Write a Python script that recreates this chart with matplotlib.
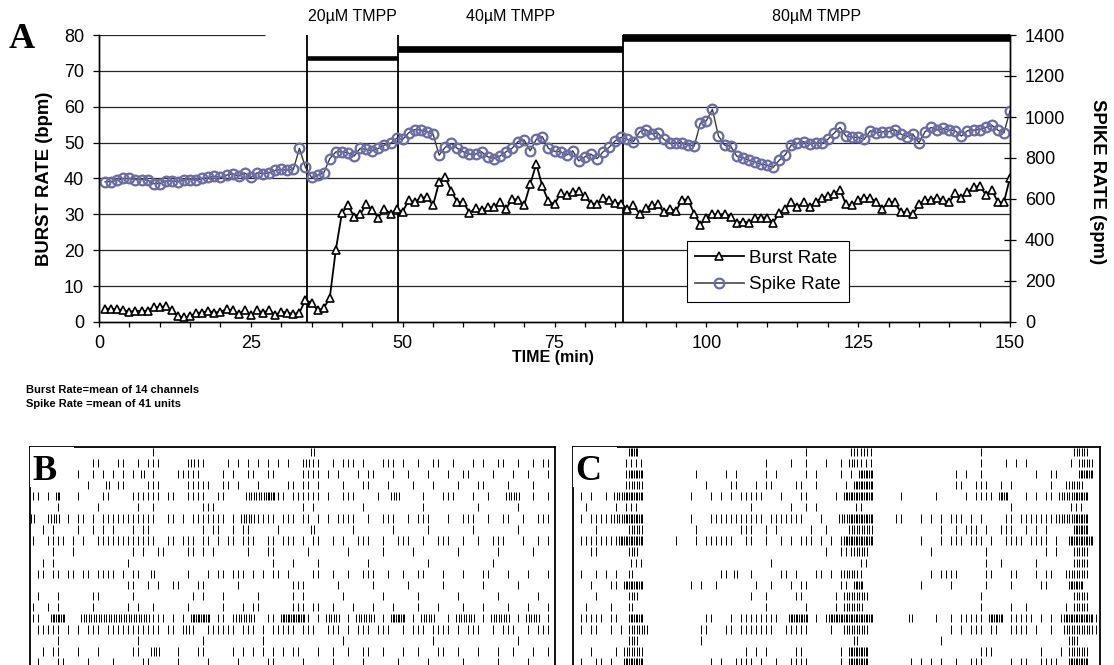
import matplotlib
matplotlib.use("Agg")
import matplotlib.pyplot as plt
import matplotlib.transforms as mtransforms
from matplotlib.lines import Line2D
from matplotlib.patches import Rectangle

plt.rcParams["font.family"] = ["Liberation Sans", "DejaVu Sans"]

# ---------------------------------------------------------------------------
# Data
# ---------------------------------------------------------------------------

MINUTES = list(range(1, 151))

BURST_RATE = [
    3.7, 3.7, 3.5, 3.3, 2.9, 3.1, 3.1, 3.1, 4.2, 4.2,
    4.4, 3.3, 1.6, 1.3, 1.6, 2.6, 2.6, 3.1, 2.6, 2.9,
    3.5, 3.3, 2.2, 3.3, 1.9, 3.3, 2.6, 3.3, 1.9, 2.9,
    2.6, 2.2, 2.6, 6.2, 5.3, 3.3, 3.8, 6.8, 20.2, 30.4,
    32.5, 29.4, 30.0, 32.8, 31.1, 29.1, 31.6, 30.2, 31.4, 30.8,
    33.9, 33.4, 34.6, 34.8, 32.5, 39.0, 40.4, 36.5, 33.4, 33.4,
    30.4, 31.8, 31.1, 32.0, 32.0, 33.5, 31.4, 34.3, 34.1, 32.5,
    38.4, 44.1, 37.8, 33.7, 32.8, 35.9, 35.3, 36.2, 36.5, 35.0,
    33.0, 33.0, 34.6, 33.9, 33.2, 33.0, 31.4, 32.5, 30.2, 31.8,
    32.5, 32.8, 30.6, 31.6, 30.9, 34.1, 34.1, 30.2, 27.1, 28.9,
    30.0, 30.0, 30.0, 29.3, 27.7, 28.0, 27.7, 28.9, 29.1, 29.1,
    27.7, 30.4, 31.6, 33.4, 32.0, 33.4, 32.0, 33.4, 34.6, 35.0,
    35.7, 36.8, 32.8, 32.5, 34.0, 34.6, 34.6, 33.4, 31.6, 33.4,
    33.4, 30.6, 30.6, 30.0, 32.8, 34.0, 34.0, 34.6, 33.9, 33.4,
    35.9, 34.6, 36.2, 37.5, 38.0, 35.5, 36.8, 33.4, 33.4, 40.2,
]

SPIKE_RATE = [
    684, 684, 692, 700, 700, 695, 695, 692, 675, 675,
    688, 688, 684, 692, 695, 692, 700, 705, 711, 705,
    716, 724, 711, 727, 705, 727, 724, 727, 740, 744,
    740, 744, 847, 754, 705, 716, 727, 797, 830, 830,
    825, 809, 847, 842, 835, 847, 863, 871, 896, 891,
    923, 939, 936, 928, 917, 814, 852, 871, 847, 830,
    819, 819, 830, 806, 797, 809, 830, 847, 880, 888,
    835, 891, 904, 847, 833, 830, 814, 835, 786, 806,
    819, 797, 830, 852, 884, 901, 891, 880, 928, 939,
    917, 923, 891, 871, 874, 874, 863, 858, 969, 982,
    1037, 907, 863, 858, 809, 802, 789, 781, 770, 765,
    754, 789, 816, 863, 871, 880, 868, 874, 871, 891,
    920, 949, 907, 901, 901, 891, 933, 923, 928, 928,
    939, 917, 904, 917, 874, 928, 949, 936, 944, 936,
    933, 907, 933, 936, 939, 949, 960, 936, 923, 1030,
]

DOSE_LABELS = ["20\u00b5M TMPP", "40\u00b5M TMPP", "80\u00b5M TMPP"]
DOSE_START = [34.3, 49.3, 86.3]
DOSE_END = [49.3, 86.3, 150.0]

FOOTNOTES = ["Burst Rate=mean of 14 channels", "Spike Rate =mean of 41 units"]

# Raster rows: tokens "bin<kind>" or "start-end<kind>", one bin = 5 px of panel.
# kind: | single spike, : two spikes, # dense burst
RASTER_B = [
    "24| 56:",
    "12-13| 17-18| 21| 23-25| 31| 32: 33-34| 39| 41| 43| 45| 47| 49| 51| 54| 55: 56-57| "
    "60| 62-64| 66| 70-72| 74| 77| 80-81| 84| 88| 90| 93-94| 97| 100| 102-103|",
    "9| 12| 14| 16| 18| 20| 22: 24| 29-33| 38| 40| 43-44| 47-48| 54-57| "
    "59| 61| 65| 67-68| 72| 75| 79| 83| 86-87| 92| 96| 99| 103|",
    "11| 15: 17-18| 23-25| 31-35| 38-39| 41| 45| 51-52| 54-55| 57| "
    "62| 66-67| 71| 76| 80| 85| 89-90| 95| 100|",
    "0-1| 3| 5# 9| 14-15| 20-25| 27-28| 31-34| 37-38| 43-46: 47-48# 49-50| 52-57| "
    "59| 62-64| 69| 72-73: 78| 82-84| 88| 91| 95-97: 100| 103|",
    "5| 13| 21| 24| 34-36| 54| 56| 66| 78| 89| 97|",
    "0: 3| 4-5: 7| 9-10| 12| 14-24| 27-28| 30| 32-38| 40| 42-44: 45-48| 50-52| 54-55| 57| "
    "59| 61-64| 67| 70-72| 75| 77-79| 83| 86-88| 91| 94-95| 98| 101-103|",
    "2| 4| 9| 12| 14| 16| 20| 22-23| 34| 36-37| 40| 42-43| 49| 56: 64| 72| 79| 88| 97|",
    "0| 3-6| 8| 10| 13-24| 27-28| 30-32| 34-35| 37| 39-40| 42-44| 47-48| 50-52| 54| 56-57| "
    "60| 62| 65-67| 70| 73-75| 78| 81-83| 86| 89| 92-94| 98| 101| 103|",
    "4| 8| 20| 22| 25-26| 31-32| 34| 36| 43| 47-48| 55| 63| 70| 76| 85| 93| 100|",
    "2| 4| 19| 48| 52| 57| 67| 79| 92|",
    "1-2| 4-5| 7-8| 10-11| 13-16| 18| 20-21| 24: 31| 35| 37-38| 40-42| 44| 46| 48-49| 51| 56-57| "
    "60| 63| 66-68| 71| 74| 77-78| 82| 86| 90-91| 95| 99| 103|",
    "19-20| 23| 25| 28-29| 33-34| 41| 52-54| 61| 68| 75| 82| 90| 97|",
    "1| 5| 12-13| 20| 32| 34| 38| 45| 52| 54| 62| 70| 77| 85| 93| 101|",
    "0| 3| 5| 12| 19| 21| 24| 31| 38| 42| 44-45| 52-54| 56-57| "
    "60| 64| 68| 72| 77| 81| 86| 90| 95| 99| 103|",
    "0-1| 4-6# 10-16: 17-23: 24-25| 26| 28| 30| 32-35# 37-38| 40| 41-44: 47-48| 50-54# 55| 57| "
    "59-61: 63| 65-68: 70| 72-74# 76| 78-80: 83| 85-88: 90| 92-95: 97| 99-101: 103|",
    "1-5| 7| 9| 11-13| 15-25| 27-28| 30| 31: 32| 35-40| 42-44| 46| 48-52| 54-56| "
    "59-61| 63| 65-67| 69-71| 74| 76-78| 80-83| 85| 87-89| 92| 94-96| 99| 101-103|",
    "5| 21| 34| 46| 62| 80| 97|",
    "2| 4-5| 9| 13| 20-21| 24-25: 29| 33-34| 40| 42| 44| 46| 48| 50| 52-53| 57| "
    "60| 63| 66-67| 70| 74| 77| 81-82| 85| 89| 93| 96| 100| 103|",
    "1| 5-6| 11| 16| 22-23| 29| 35| 41| 47-48| 54| 60| 66| 73| 79| 86| 93| 99|",
]

RASTER_C = [
    "11-12# 46| 55| 56: 57| 58: 59| 81| 100-102:",
    "10-13| 38| 43| 46| 50| 53| 55-56: 57-59| 81| 86| 88| 90| 99| 101-103:",
    "10| 11-13# 24| 30| 32| 38| 40| 46| 48| 53| 55| 57-59# 76| 78| 81| 92| 95-96| 101-103#",
    "10| 11-13: 26| 31-32| 36| 38-39| 44-45| 48| 54| 56-59# 76-77| 80-82| 85| 87| 95| 98| 99-101:",
    "1| 3| 6| 8-9: 10-13# 23| 27| 29| 31| 33-37| 41| 45-46| 52| 54-59# 65| 72| 78| 80-83| 85-86# "
    "90| 92| 94-95| 97-99: 100-102#",
    "2| 8| 10-12| 35| 43| 46| 48| 56-57| 87| 99-101|",
    "1| 3-7| 8-9: 10-13# 23| 27-32| 33-37| 39-40| 41-45| 49| 53-54: 55-59# 64-65| 69| 71| 73| 75-77| "
    "79| 81| 86-87| 89-95| 96| 97-99: 100-102#",
    "4| 11-13: 24| 33-35| 38| 40| 47| 50| 55-59: 73| 76| 78-80| 82| 85-87| 90| 92| 94| 100-102#",
    "1| 2-4| 5| 6| 7| 8| 9-13# 20| 24| 26| 27-30| 31| 34-35| 38| 41| 43| 45-47| 49| 51| 53| 54-59# "
    "69| 73| 75-77| 79-81| 83| 86-88| 89| 91-94| 96| 99-103#",
    "3-4| 11-12: 50| 53-55| 56-58: 71| 82| 94| 96| 100-102:",
    "11-13| 39| 57-58| 82| 85| 92| 100-102:",
    "1| 4| 6| 8| 11: 29-30| 32: 35| 41-42| 44| 48-49| 51| 53| 54-56: 57| 71| 73-76| 82-83| 87-88| "
    "92| 94-95| 98| 99-102:",
    "3| 7-8| 10-13# 23| 25| 28| 36| 39| 43| 45-46| 53-54| 56-57# 69| 75| 82| 87| 93-94| 99-101#",
    "4| 11-12: 35| 38| 44-45| 52| 54-58: 81| 100-102:",
    "2| 7| 11: 38| 46| 52| 54-57: 81| 87| 90| 98| 100-102:",
    "1| 2-5| 7-8| 11-13# 26-27| 31| 33-39| 40| 43-46# 48| 50| 51-59# 67: 72| 75| 77| 78-81| 83-85# "
    "87| 88-91| 93| 95| 97| 98-103# 104|",
    "1| 3-4| 7| 9| 11-14: 25-26| 30-31| 33-39| 42-46| 51| 54-58: 75| 77| 79-81| 83-84| 87-90| 92| "
    "95| 98-103: 104|",
    "11-12: 25| 56: 73| 99-100:",
    "3| 8| 10-13: 34| 36| 38| 44-45| 53| 55-58# 81-83| 93| 97| 99-102:",
    "1| 4-5| 7| 10-13# 27| 29| 32-35| 37| 40| 43-46| 53| 55-58# 67| 69| 71| 73| 76| 79-81| 87| "
    "89-90| 93-96| 99-102#",
]


# ---------------------------------------------------------------------------
# Helpers
# ---------------------------------------------------------------------------

FIG_W, FIG_H = 1114, 665


def px_rect(left, top, right, bottom):
    """Axes rectangle in figure fractions from pixel edges."""
    return [left / FIG_W, 1 - bottom / FIG_H, (right - left) / FIG_W, (bottom - top) / FIG_H]


def parse_row(row):
    events = []
    for tok in row.split():
        kind = tok[-1]
        span = tok[:-1]
        if "-" in span:
            a, b = (int(v) for v in span.split("-"))
        else:
            a = b = int(span)
        for i in range(a, b + 1):
            events.append((i, kind))
    return events


OFFSETS = {"|": [2.5], ":": [1.3, 3.7], "#": [0.8, 2.5, 4.2]}


def draw_raster(ax, rows, letter, width):
    xs, y0, y1 = [], [], []
    for k, row in enumerate(rows):
        yc = 4.7 + 11.1 * k
        for b, kind in parse_row(row):
            for off in OFFSETS[kind]:
                xs.append(5 * b + off)
                y0.append(yc - 4.2)
                y1.append(yc + 4.2)
    ax.vlines(xs, y0, y1, colors="black", linewidth=0.7)
    ax.set_xlim(0, width)
    ax.set_ylim(228, 0)
    ax.set_xticks([])
    ax.set_yticks([])
    for side in ("left", "top", "right"):
        ax.spines[side].set_linewidth(1.3)
    ax.spines["bottom"].set_visible(False)
    ax.add_patch(Rectangle((0, 0), 44, 40, facecolor="white", edgecolor="none", zorder=3))
    ax.text(2.5, 24, letter, ha="left", va="center", fontsize=26, fontweight="bold",
            family=["Liberation Serif", "DejaVu Serif"], zorder=4)


# ---------------------------------------------------------------------------
# Figure
# ---------------------------------------------------------------------------

fig = plt.figure(figsize=(FIG_W / 100, FIG_H / 100), dpi=100)

ax = fig.add_axes(px_rect(99, 35, 1010, 322))
ax.set_xlim(0, 150)
ax.set_ylim(0, 80)
ax2 = ax.twinx()
ax2.set_ylim(0, 1400)

# grid
for v in range(10, 80, 10):
    ax.axhline(v, color="0.15", linewidth=0.9, zorder=0)
ax.hlines(80, 0, 27.3, color="0.15", linewidth=0.9, zorder=0)

# dose onsets and bars
bar_y = [73.6, 76.2, 79.3]
bar_lw = [3.3, 4.8, 5.5]
trans = mtransforms.blended_transform_factory(ax.transData, ax.transAxes)
for lab, s, e, yb, lw in zip(DOSE_LABELS, DOSE_START, DOSE_END, bar_y, bar_lw):
    ax.vlines(s, 0, 80, colors="black", linewidth=1.3, clip_on=False)
    ax.plot([s, e], [yb, yb], color="black", linewidth=lw, solid_capstyle="butt", clip_on=False)
    ax.text((s + e) / 2, 1.063, lab, transform=trans, ha="center", va="center", fontsize=11.5)

ax.plot(MINUTES, BURST_RATE, color="black", linewidth=1.3, marker="^",
        markersize=6, markerfacecolor="white", markeredgecolor="black",
        markeredgewidth=1.2, zorder=3)
ax2.plot(MINUTES, SPIKE_RATE, color="#3a3a3a", linewidth=1.0, marker="o",
         markersize=7, markerfacecolor="none", markeredgecolor="#6B6BA6",
         markeredgewidth=1.6)

# axes styling
ax.spines["top"].set_visible(False)
ax2.spines["top"].set_visible(False)
for a in (ax, ax2):
    for side in ("left", "right", "bottom"):
        a.spines[side].set_linewidth(1.0)

ax.set_xticks(range(0, 151, 25))
ax.set_xticks(range(0, 151, 5), minor=True)
ax.set_yticks(range(0, 81, 10))
ax2.set_yticks(range(0, 1401, 200))
ax.tick_params(axis="x", which="both", direction="out", length=3.6, width=0.9, pad=5.5, labelsize=13)
ax.tick_params(axis="y", direction="out", length=4.3, width=0.9, pad=6.5, labelsize=13)
ax2.tick_params(axis="y", direction="inout", length=8.6, width=0.9, pad=6.5, labelsize=13)

ax.set_ylabel("BURST RATE (bpm)", fontweight="bold", fontsize=13.3, va="center")
ax.yaxis.set_label_coords(-0.060, 0.5)
ax2.set_ylabel("SPIKE RATE (spm)", fontweight="bold", fontsize=13.3, rotation=270, va="center")
ax2.yaxis.set_label_coords(1.0955, 0.49)
ax.set_xlabel("TIME (min)", fontweight="bold", fontsize=11.5, va="center")
ax.xaxis.set_label_coords(0.498, -0.122)

handles = [
    Line2D([], [], color="black", linewidth=1.3, marker="^", markersize=6,
           markerfacecolor="white", markeredgecolor="black", markeredgewidth=1.2),
    Line2D([], [], color="#555555", linewidth=1.3, marker="o", markersize=7,
           markerfacecolor="none", markeredgecolor="#6B6BA6", markeredgewidth=1.6),
]
leg = ax2.legend(handles, ["Burst Rate", "Spike Rate"], loc="lower left",
                 bbox_to_anchor=(0.645, 0.07), fontsize=13.5, frameon=True, fancybox=False,
                 edgecolor="black", framealpha=1, handlelength=2.6, handletextpad=0.3,
                 borderpad=0.45, labelspacing=0.5, borderaxespad=0)
leg.get_frame().set_linewidth(0.8)

fig.text(22 / FIG_W, 1 - 40 / FIG_H, "A", ha="center", va="center", fontsize=26,
         fontweight="bold", family=["Liberation Serif", "DejaVu Serif"])

for i, note in enumerate(FOOTNOTES):
    fig.text(26 / FIG_W, 1 - (390 + 14 * i) / FIG_H, note, ha="left", va="center",
             fontsize=8, fontweight="bold")

# raster panels
axb = fig.add_axes(px_rect(30, 447, 555, 675))
draw_raster(axb, RASTER_B, "B", 525)
axc = fig.add_axes(px_rect(573, 447, 1100, 675))
draw_raster(axc, RASTER_C, "C", 527)

fig.savefig("out.png", dpi=100)
